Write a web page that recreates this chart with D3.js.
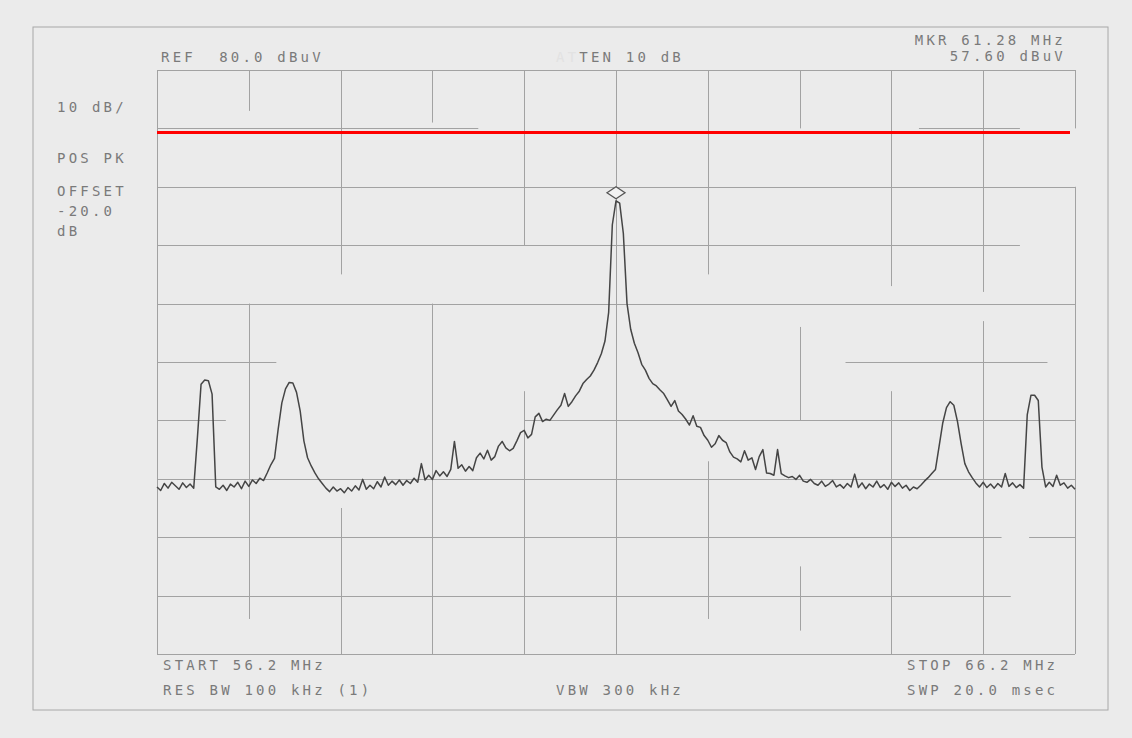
<!DOCTYPE html>
<html lang="en">
<head>
<meta charset="UTF-8">
<script src="https://d3js.org/d3.v7.min.js"></script>
<title>Spectrum Analyzer Plot</title>
<style>
  body { margin: 0; background-color: #ebebeb; }
  svg { display: block; }
  .lbl { font-family: "DejaVu Sans Mono", monospace; font-size: 14px; fill: #7a7a7a; letter-spacing: 3.2px; white-space: pre; }
  .grid line { stroke: #a2a2a2; stroke-width: 1; }
</style>
</head>
<body>
<svg id="chart"></svg>
<script>
// sweep settings (MHz) and reference level (dBuV)
const startMHz = 56.2;
const stopMHz = 66.2;
const refLevel = 80;
const dbPerDiv = 10;
const divisions = 10;
const limitLevel = 69.3;   // red limit line

// trace, dBuV, one reading every 0.04 MHz from 56.2 to 66.2 MHz
const traceDbuv = [
  8.6, 8.0, 9.2, 8.4, 9.4, 8.8, 8.2, 9.3, 8.5, 9.1,
  8.4, 17.0, 26.2, 26.9, 26.8, 24.5, 8.6, 8.2, 8.9, 8.0,
  9.1, 8.6, 9.4, 8.3, 9.6, 8.7, 9.8, 9.2, 10.1, 9.7,
  11.0, 12.4, 13.5, 18.5, 23.0, 25.4, 26.5, 26.4, 24.8, 21.6,
  16.5, 13.6, 12.2, 11.0, 10.0, 9.2, 8.4, 7.8, 8.6, 7.9,
  8.3, 7.6, 8.5, 7.9, 8.8, 8.1, 9.9, 8.2, 8.9, 8.3,
  9.5, 8.6, 10.3, 8.9, 9.6, 9.0, 9.8, 8.9, 9.7, 9.2,
  10.1, 9.4, 12.6, 9.8, 10.6, 9.9, 11.4, 10.5, 11.2, 10.4,
  11.6, 16.4, 11.8, 12.4, 11.3, 12.1, 11.4, 13.6, 14.4, 13.4,
  14.9, 13.2, 13.8, 15.6, 16.4, 15.3, 14.8, 15.2, 16.5, 17.9,
  18.3, 17.0, 17.6, 20.6, 21.2, 19.8, 20.2, 20.0, 20.9, 21.8,
  22.6, 24.6, 22.4, 23.2, 24.2, 25.0, 26.3, 27.0, 27.6, 28.6,
  29.9, 31.4, 33.6, 38.5, 53.5, 57.6, 57.2, 52.0, 40.0, 35.6,
  33.2, 31.6, 29.6, 28.6, 27.2, 26.3, 25.9, 25.2, 24.6, 23.5,
  22.4, 23.4, 21.6, 21.0, 20.2, 19.2, 20.8, 19.0, 18.8, 17.4,
  16.6, 15.4, 16.0, 17.4, 16.6, 16.2, 14.6, 13.7, 13.4, 12.9,
  14.8, 13.2, 13.6, 11.6, 13.8, 15.0, 11.0, 10.9, 10.6, 15.0,
  10.9, 10.5, 10.2, 10.4, 9.9, 10.6, 9.6, 9.4, 9.9, 9.2,
  8.9, 9.6, 8.7, 9.1, 9.7, 8.6, 9.0, 8.4, 9.2, 8.6,
  10.8, 8.5, 9.3, 8.3, 9.1, 8.6, 9.6, 8.5, 9.0, 8.2,
  9.4, 8.7, 9.3, 8.4, 8.9, 8.0, 8.6, 8.3, 8.9, 9.6,
  10.2, 10.9, 11.6, 15.6, 19.6, 22.2, 23.2, 22.6, 19.8, 16.0,
  12.6, 11.2, 10.2, 9.3, 8.6, 9.4, 8.5, 9.1, 8.4, 9.2,
  8.6, 10.9, 8.7, 9.3, 8.5, 9.0, 8.4, 21.0, 24.3, 24.3,
  23.4, 12.0, 8.6, 9.4, 8.7, 10.6, 8.9, 9.3, 8.4, 8.9,
  8.2
];

// annotation texts
const topLeftText = ["REF  80.0 dBuV"];
const topCenterText = ["AT", "TEN 10 dB"];
const markerText = ["MKR 61.28 MHz", "57.60 dBuV"];
const sideText = ["10 dB/", "POS PK", "OFFSET", "-20.0", "dB"];
const bottomLeftText = ["START 56.2 MHz", "RES BW 100 kHz (1)"];
const bottomCenterText = ["VBW 300 kHz"];
const bottomRightText = ["STOP 66.2 MHz", "SWP 20.0 msec"];

const W = 1132, H = 738;
const plot = { left: 157, right: 1075, top: 70, bottom: 654 };

const svg = d3.select("#chart").attr("width", W).attr("height", H);

const x = d3.scaleLinear().domain([startMHz, stopMHz]).range([plot.left, plot.right]);
const y = d3.scaleLinear().domain([refLevel - dbPerDiv * divisions, refLevel]).range([plot.bottom, plot.top]);

// outer frame of the printout
svg.append("rect")
   .attr("x", 33).attr("y", 27)
   .attr("width", 1075).attr("height", 683)
   .attr("fill", "none")
   .attr("stroke", "#a8a8a8")
   .attr("stroke-width", 1);

// graticule - the plotter pen skipped parts of some lines, so each line
// is drawn as visible pieces, counted in divisions from the top / left
const step = (stopMHz - startMHz) / divisions;
const freqTicks = d3.range(divisions + 1).map(k => startMHz + k * step);
const levelTicks = d3.range(divisions + 1).map(k => refLevel - k * dbPerDiv);

const vPieces = [
  [[0, 10]], [[0, 0.7], [4.0, 9.4]], [[0, 3.5], [7.5, 10]], [[0, 0.9], [4.0, 10]],
  [[0, 3.0], [5.5, 10]], [[0, 10]], [[0, 3.5], [6.7, 9.4]], [[0, 1.0], [4.4, 6.0], [8.5, 9.6]],
  [[0, 3.7], [5.5, 10]], [[0, 3.8], [4.3, 10]], [[0, 1.0], [2.0, 10]]
];
const hPieces = [
  [[0, 10]], [[0, 3.5], [8.3, 9.4]], [[0, 10]], [[0, 9.4]], [[0, 10]],
  [[0, 1.3], [7.5, 9.7]], [[0, 0.75], [4.0, 10]], [[0, 10]], [[0, 9.2], [9.5, 10]],
  [[0, 9.3]], [[0, 10]]
];
const divY = d => y(refLevel - d * dbPerDiv);
const divX = d => x(startMHz + d * step);

const grid = svg.append("g").attr("class", "grid");
freqTicks.forEach((f, k) => {
  const px = Math.round(x(f)) + 0.5;
  grid.selectAll(null)
      .data(vPieces[k])
      .enter().append("line")
      .attr("x1", px).attr("x2", px)
      .attr("y1", d => divY(d[0])).attr("y2", d => divY(d[1]));
});
levelTicks.forEach((lv, k) => {
  const py = Math.round(y(lv)) + 0.5;
  grid.selectAll(null)
      .data(hPieces[k])
      .enter().append("line")
      .attr("y1", py).attr("y2", py)
      .attr("x1", d => divX(d[0])).attr("x2", d => divX(d[1]));
});

// trace
const freqOf = i => startMHz + i * (stopMHz - startMHz) / (traceDbuv.length - 1);
const line = d3.line()
    .x((d, i) => x(freqOf(i)))
    .y(d => y(d));

svg.append("path")
   .datum(traceDbuv)
   .attr("d", line)
   .attr("fill", "none")
   .attr("stroke", "#454545")
   .attr("stroke-width", 1.5)
   .attr("stroke-linejoin", "round");

// marker diamond above the highest reading
const peakIdx = d3.maxIndex(traceDbuv);
const mx = x(freqOf(peakIdx)), my = y(traceDbuv[peakIdx]) - 8;
svg.append("path")
   .attr("d", `M${mx - 9},${my} L${mx},${my - 6} L${mx + 9},${my} L${mx},${my + 6} Z`)
   .attr("fill", "#f2f2f2")
   .attr("stroke", "#555")
   .attr("stroke-width", 1.3);

// limit line
svg.append("line")
   .attr("x1", x(startMHz)).attr("x2", x(stopMHz) - 5)
   .attr("y1", y(limitLevel)).attr("y2", y(limitLevel))
   .attr("stroke", "#ff0000")
   .attr("stroke-width", 3);

// annotations
function label(txt, px, py, anchor) {
  return svg.append("text")
    .attr("class", "lbl")
    .attr("x", px).attr("y", py)
    .attr("text-anchor", anchor || "start")
    .text(txt);
}

label(topLeftText[0], 161, 62);

const atten = svg.append("text").attr("class", "lbl").attr("x", 556).attr("y", 62);
atten.append("tspan").style("fill", "#e2e2e2").text(topCenterText[0]);
atten.append("tspan").text(topCenterText[1]);

label(markerText[0], 1066, 45, "end");
label(markerText[1], 1066, 61, "end");

const sideY = [112, 163, 196, 216, 236];
sideText.forEach((t, i) => label(t, 57, sideY[i]));

label(bottomLeftText[0], 163, 670);
label(bottomLeftText[1], 163, 695);
label(bottomCenterText[0], 556, 695);
label(bottomRightText[0], 907, 670);
label(bottomRightText[1], 907, 695);
</script>
</body>
</html>
